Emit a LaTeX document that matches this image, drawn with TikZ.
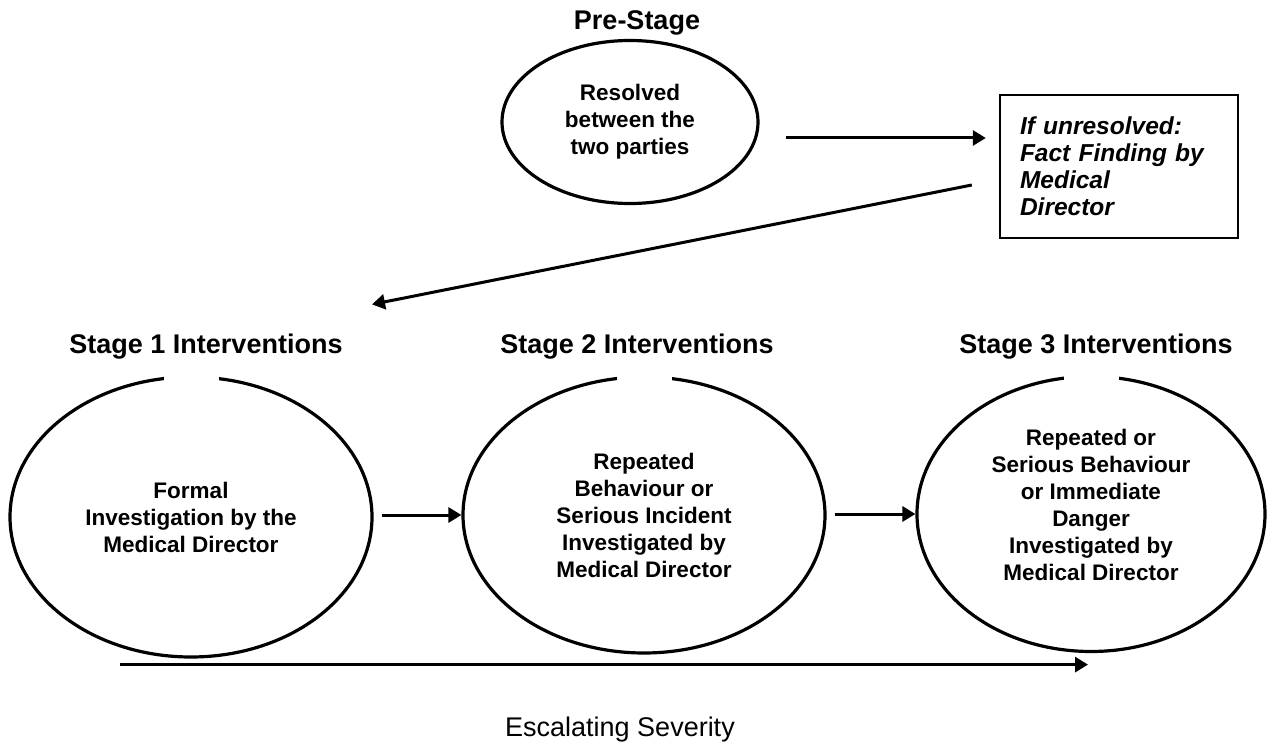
\documentclass[tikz,border=0pt]{standalone}
\usepackage{fontspec}
\setmainfont{Liberation Sans}
\usetikzlibrary{shapes.geometric,arrows.meta}
\begin{document}
\begin{tikzpicture}[x=1pt,y=-1pt,
  title/.style={font=\fontsize{27}{32}\selectfont\bfseries, inner sep=0pt},
  ovaltext/.style={inner sep=0pt, align=center, font=\fontsize{22.5}{27}\selectfont\bfseries},
  oval/.style={draw, ellipse, line width=3.2pt, inner sep=0pt, ovaltext},
  factbox/.style={draw, line width=2.4pt, minimum width=238pt, minimum height=143pt,
    inner xsep=20pt, inner ysep=0pt, text width=198pt, align=left,
    font=\fontsize{24.5}{27}\selectfont\bfseries\itshape},
  arr/.style={line width=3pt, -{Triangle[length=13pt,width=15pt]}},
  gap/.style={fill=white}
]
\useasboundingbox (0,0) rectangle (1267,746);
\fill[white] (0,0) rectangle (1267,746);

% Pre-stage
\node[title] (t0) at (637,23) {Pre-Stage};
\node[oval, minimum width=256pt, minimum height=163pt] (pre) at (630,122)
  {Resolved\\between the\\two parties};
\node[factbox] (box) at (1119,166.5)
  {If unresolved:\\Fact Finding by\\Medical\\Director};

% Stages
\node[oval, minimum width=362pt, minimum height=280pt] (s1) at (191,517)
  {Formal\\Investigation by the\\Medical Director};
\node[oval, minimum width=362pt, minimum height=276pt] (s2) at (644,515)
  {Repeated\\Behaviour or\\Serious Incident\\Investigated by\\Medical Director};
\node[oval, minimum width=348pt, minimum height=275pt] (s3) at (1091,514) {};
\node[ovaltext] (s3txt) at ([yshift=9pt]s3.center)
  {Repeated or\\Serious Behaviour\\or Immediate\\Danger\\Investigated by\\Medical Director};

% gaps at tops of stage ellipses
\foreach \s in {s1,s2,s3}{
  \fill[gap] ([shift={(-27.5pt,-6pt)}]\s.north) rectangle ([shift={(27.5pt,6pt)}]\s.north);
}

\node[title] (t1) at (206,347) {Stage 1 Interventions};
\node[title] (t2) at (637,347) {Stage 2 Interventions};
\node[title] (t3) at (1096,347) {Stage 3 Interventions};

\node[font=\fontsize{27}{32}\selectfont, inner sep=0pt] (esc) at (620,730) {Escalating Severity};

% connectors
\draw[arr] ([shift={(26pt,-16pt)}]pre.east) -- ([shift={(-13pt,28.5pt)}]box.west);
\draw[arr] ([shift={(-27pt,-18.5pt)}]box.west) -- ([shift={(181pt,71pt)}]s1.north);
\draw[arr] ([xshift=8pt]s1.east |- s2.west) -- (s2.west);
\draw[arr] ([xshift=8pt]s2.east |- s3.west) -- (s3.west);
\draw[arr] ([shift={(-71pt,-6pt)}]s1.south) -- ([shift={(-3pt,-11.5pt)}]s3.south);
\end{tikzpicture}
\end{document}
